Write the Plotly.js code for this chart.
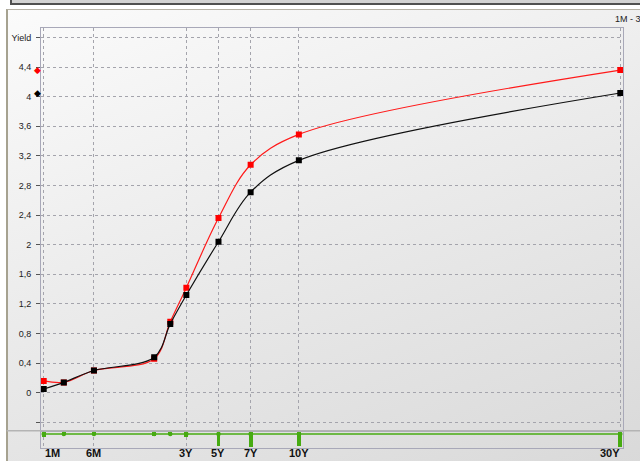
<!DOCTYPE html>
<html>
<head>
<meta charset="utf-8">
<script src="https://cdn.plot.ly/plotly-3.0.1.min.js"></script>
<style>
  html, body { margin: 0; padding: 0; background: #ffffff; }
  #wrap { position: relative; width: 640px; height: 461px; overflow: hidden; background: #ffffff; }
  #topbar { position: absolute; left: 10px; top: -10px; width: 660px; height: 13px;
            background: #d2d2d2; border-left: 2px solid #505050; border-bottom: 2px solid #505050; }
  #frame { position: absolute; left: 6px; top: 9px; width: 650px; height: 470px;
           border-left: 2px solid #a6a290; border-top: 1px solid #b6b2a6;
           background: linear-gradient(160deg, #fbfbfb 0%, #ebebeb 45%, #d8d8d8 100%); }
  #chart { position: absolute; left: 0; top: 0; width: 640px; height: 461px; }
</style>
</head>
<body>
<div id="wrap">
  <div id="topbar"></div>
  <div id="frame"></div>
  <div id="chart"></div>
</div>
<script>
// ---- data ----
const tenorYears  = [1/12, 0.25, 0.5, 1, 2, 3, 5, 7, 10, 30];
const tenorLabels = ["1M", "3M", "6M", "1Y", "2Y", "3Y", "5Y", "7Y", "10Y", "30Y"];
const redYield    = [0.16, 0.14, 0.30, 0.46, 0.96, 1.42, 2.36, 3.08, 3.49, 4.36];
const blackYield  = [0.05, 0.14, 0.30, 0.48, 0.93, 1.32, 2.04, 2.71, 3.14, 4.05];
const liquidity   = [5, 3, 3, 4, 3, 5, 14, 15, 14, 15];
const labeledTenors = ["1M", "6M", "3Y", "5Y", "7Y", "10Y", "30Y"];
const yTicks = [-0.4, 0, 0.4, 0.8, 1.2, 1.6, 2, 2.4, 2.8, 3.2, 3.6, 4, 4.4, 4.8];
const yTickText = ["", "0", "0,4", "0,8", "1,2", "1,6", "2", "2,4", "2,8", "3,2", "3,6", "4", "4,4", "Yield"];
const rangeTitle = "1M - 30Y";

// piecewise maturity scale: monthly spacing up to 1Y, then 1.6 units per year
function pos(y) { return y <= 1 ? y * 12 : 12 + (y - 1) * 1.6; }
const xs = tenorYears.map(pos);
const xRange = [0.73, 58.67];

const lblIdx = labeledTenors.map(l => tenorLabels.indexOf(l));
const xTickVals = lblIdx.map(i => xs[i]);

const gridCol = "#a4a4ac";
const axisCol = "#a8a8b8";
const green = "#47ab12";

const traces = [
  { x: xs, y: redYield, type: "scatter", mode: "lines+markers",
    line: { color: "#ff1a1a", width: 1.2, shape: "spline", smoothing: 1 },
    marker: { symbol: "square", size: 6, color: "#ff0000" },
    xaxis: "x", yaxis: "y", hoverinfo: "skip" },
  { x: xs, y: blackYield, type: "scatter", mode: "lines+markers",
    line: { color: "#111111", width: 1.2, shape: "spline", smoothing: 1 },
    marker: { symbol: "square", size: 6, color: "#000000" },
    xaxis: "x", yaxis: "y", hoverinfo: "skip" },
  { x: xs, y: xs.map(() => 3.3), type: "scatter", mode: "lines+markers",
    line: { color: green, width: 1.5 }, marker: { symbol: "circle", size: 4.5, color: green },
    xaxis: "x", yaxis: "y2", hoverinfo: "skip" },
  { x: xs, y: liquidity, base: xs.map(() => 1.3), type: "bar", width: 0.38,
    marker: { color: green, line: { width: 0 } }, xaxis: "x", yaxis: "y2", hoverinfo: "skip" }
];

const lastMarks = [
  { v: redYield[redYield.length - 1], c: "#ff0000" },
  { v: blackYield[blackYield.length - 1], c: "#000000" }
].map(m => ({
  text: "\u25C6", xref: "paper", yref: "y", x: 0, y: m.v, xanchor: "center", yanchor: "middle",
  xshift: -4, showarrow: false, font: { family: "DejaVu Sans, sans-serif", size: 9, color: m.c }
}));

const xLabels = labeledTenors.map((l, k) => ({
  text: "<b>" + l + "</b>", xref: "x", yref: "paper", x: xTickVals[k], y: 0,
  xanchor: "center", yanchor: "top", yshift: 2, borderpad: 0,
  xshift: k === 0 ? 9 : (k === labeledTenors.length - 1 ? -10 : 0),
  showarrow: false,
  font: { family: "Liberation Sans Narrow, Arial Narrow, Liberation Sans, sans-serif", size: 11, color: "#111" }
}));

const layout = {
  width: 640, height: 461,
  margin: { l: 41, r: 17, t: 28, b: 13, pad: 0 },
  paper_bgcolor: "rgba(0,0,0,0)",
  plot_bgcolor: "rgba(0,0,0,0)",
  showlegend: false,
  font: { family: "Liberation Sans, Arial, sans-serif", size: 9, color: "#222" },
  xaxis: {
    anchor: "y2", range: xRange, tickmode: "array", tickvals: xTickVals, showticklabels: false,
    ticks: "", showgrid: true, gridcolor: gridCol, griddash: "3px,3px", gridwidth: 1,
    showline: true, linecolor: axisCol, linewidth: 1, mirror: "all", zeroline: false
  },
  yaxis: {
    domain: [0.041, 1], range: [-0.514, 4.928], tickmode: "array", tickvals: yTicks, ticktext: yTickText,
    ticks: "outside", ticklen: 4, tickcolor: "#555", ticklabelstandoff: 3,
    showgrid: true, gridcolor: gridCol, griddash: "3px,3px", gridwidth: 1,
    showline: true, linecolor: axisCol, linewidth: 1, mirror: true, zeroline: false,
    tickfont: { size: 9, color: "#222" }
  },
  yaxis2: {
    domain: [0, 0.041], range: [17.3, 0], showticklabels: false, ticks: "", showgrid: false,
    showline: true, linecolor: axisCol, linewidth: 1, mirror: true, zeroline: false
  },
  bargap: 0,
  shapes: [
    { type: "line", xref: "paper", yref: "paper", x0: -0.059, x1: 1.04, y0: 0.041, y1: 0.041,
      line: { color: "#b4b4b4", width: 1.5 } }
  ],
  annotations: [
    { text: rangeTitle, xref: "paper", yref: "paper", x: 0.982, y: 1.022, xanchor: "left", yanchor: "middle",
      showarrow: false, font: { size: 9, color: "#222" } }
  ].concat(lastMarks, xLabels)
};

Plotly.newPlot("chart", traces, layout, { staticPlot: true, displayModeBar: false });
</script>
</body>
</html>
